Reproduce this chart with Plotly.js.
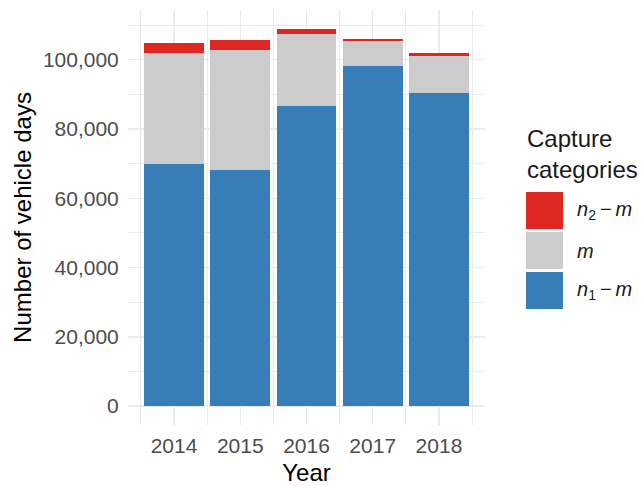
<!DOCTYPE html>
<html>
<head>
<meta charset="utf-8">
<script src="https://cdn.plot.ly/plotly-3.0.1.min.js"></script>
<style>html,body{margin:0;padding:0;background:#fff;}#chart{width:643px;height:486px;}</style>
</head>
<body>
<div id="chart"></div>
<script>
// ---- data ----
const years = [2014, 2015, 2016, 2017, 2018];
const n1_minus_m = [70000, 68300, 86700, 98300, 90500];
const m_vals = [32000, 34600, 20800, 7200, 10700];
const n2_minus_m = [2900, 2700, 1400, 600, 800];
const yTicks = [0, 20000, 40000, 60000, 80000, 100000];
const legendTitle = "Capture<br>categories";
const seriesNames = ["<i>n</i><sub>1</sub>\u2009\u2212\u2009<i>m</i>", "<i>m</i>", "<i>n</i><sub>2</sub>\u2009\u2212\u2009<i>m</i>"];
const colors = ["#377EB8", "#CCCCCC", "#DE2623"];

// ---- layout geometry (pixels) ----
const W = 643, H = 486;
const L = 128, R = 485, T = 10, B = 425;
const px = x => (x - L) / (R - L);
const py = y => (B - y) / (B - T);

const totals = years.map((_, i) => n1_minus_m[i] + m_vals[i] + n2_minus_m[i]);
const maxT = Math.max(...totals);
const font = "Liberation Sans, Arial, sans-serif";

const series = [n1_minus_m, m_vals, n2_minus_m];
const traces = series.map((vals, k) => ({
  type: "bar",
  x: years,
  y: vals,
  name: seriesNames[k],
  width: 0.9,
  marker: {color: colors[k], line: {width: 0}},
  showlegend: false,
  hoverinfo: "x+y+name"
}));

// custom legend (large square keys like ggplot)
const keyTops = [192, 232, 272];
const legendOrder = [2, 1, 0];
const shapes = [];
const annotations = [];
legendOrder.forEach((k, j) => {
  shapes.push({type: "rect", xref: "paper", yref: "paper",
    x0: px(526), x1: px(563), y0: py(keyTops[j] + 37), y1: py(keyTops[j]),
    fillcolor: colors[k], line: {width: 0}});
  annotations.push({xref: "paper", yref: "paper", x: px(575), y: py(keyTops[j] + 18.5),
    xanchor: "left", yanchor: "middle", showarrow: false, text: seriesNames[k],
    font: {family: font, size: 20, color: "#1a1a1a"}});
});
annotations.push({xref: "paper", yref: "paper", x: px(525), y: py(123),
  xanchor: "left", yanchor: "top", align: "left", showarrow: false, text: legendTitle,
  font: {family: font, size: 24, color: "#1a1a1a"}});

const layout = {
  width: W, height: H,
  margin: {l: L, r: W - R, t: T, b: H - B, pad: 0},
  paper_bgcolor: "#fff", plot_bgcolor: "#fff",
  barmode: "stack",
  bargap: 0,
  font: {family: font, color: "#4D4D4D"},
  xaxis: {
    range: [years[0] - 0.695, years[years.length - 1] + 0.695],
    tickvals: years, ticktext: years.map(String),
    tickfont: {size: 21, color: "#4D4D4D"},
    ticks: "outside", ticklen: 2, tickcolor: "rgba(0,0,0,0)",
    showgrid: true, gridcolor: "#EBEBEB", gridwidth: 1.3,
    minor: {tickvals: years.concat([years[0] - 1]).map(v => v + 0.5), showgrid: true, gridcolor: "#EBEBEB", gridwidth: 1},
    zeroline: false, showline: false,
    title: {text: "Year", font: {size: 24, color: "#000"}, standoff: 8}
  },
  yaxis: {
    range: [-0.05 * maxT, 1.05 * maxT],
    tickvals: yTicks, tickformat: ",",
    tickfont: {size: 21, color: "#4D4D4D"},
    ticks: "outside", ticklen: 4, tickcolor: "rgba(0,0,0,0)",
    showgrid: true, gridcolor: "#EBEBEB", gridwidth: 1.3,
    minor: {dtick: 10000, tick0: 10000, showgrid: true, gridcolor: "#EBEBEB", gridwidth: 1},
    zeroline: false, showline: false,
    title: {text: "Number of vehicle days", font: {size: 24, color: "#000"}, standoff: 4}
  },
  shapes: shapes,
  annotations: annotations
};

Plotly.newPlot("chart", traces, layout, {displayModeBar: false, staticPlot: true});
</script>
</body>
</html>
